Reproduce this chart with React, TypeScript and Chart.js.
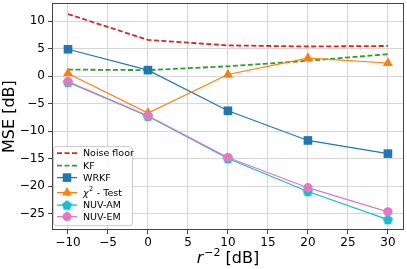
import React, { useEffect, useRef } from "react";
import { Chart, registerables } from "chart.js";

Chart.register(...registerables);

const xValues = [-10, 0, 10, 20, 30];
const noiseFloor = [11.3, 6.6, 5.6, 5.4, 5.5];
const kf = [1.2, 1.1, 1.8, 2.8, 4.0];
const wrkf = [4.9, 1.1, -6.3, -11.7, -14.1];
const chi2 = [0.5, -6.7, 0.3, 3.3, 2.4];
const nuvAm = [-1.1, -7.3, -15.0, -21.0, -26.1];
const nuvEm = [-1.0, -7.2, -14.8, -20.3, -24.7];

const seriesLabels = ["Noise floor", "KF", "WRKF", "χ2 - Test", "NUV-AM", "NUV-EM"];
const xTickValues = [-10, -5, 0, 5, 10, 15, 20, 25, 30];
const yTickValues = [-25, -20, -15, -10, -5, 0, 5, 10];

const FONT = "'DejaVu Sans', sans-serif";
const RED = "#d62728";
const GREEN = "#2ca02c";
const BLUE = "#1f77b4";
const ORANGE = "#ff7f0e";
const CYAN = "#17becf";
const PINK = "#e377c2";

const W = 407;
const H = 269;
const TARGET_RIGHT = 404;
const TARGET_TOP = 3;

function makePentagon(size: number, color: string): HTMLCanvasElement {
  const c = document.createElement("canvas");
  c.width = size;
  c.height = size;
  const ctx = c.getContext("2d")!;
  const r = size / 2;
  ctx.beginPath();
  for (let i = 0; i < 5; i++) {
    const a = -Math.PI / 2 + (i * 2 * Math.PI) / 5;
    const px = r + r * 0.98 * Math.cos(a);
    const py = r + 0.5 + r * 0.98 * Math.sin(a);
    if (i === 0) ctx.moveTo(px, py);
    else ctx.lineTo(px, py);
  }
  ctx.closePath();
  ctx.fillStyle = color;
  ctx.fill();
  return c;
}

const fmt = (v: number) => String(v).replace("-", "\u2212");

const zeroPad = (s: any) => {
  s.paddingTop = 0;
  s.paddingBottom = 0;
  s.paddingLeft = 0;
  s.paddingRight = 0;
};

export default function App() {
  const ref = useRef<HTMLCanvasElement | null>(null);
  const wrapRef = useRef<HTMLDivElement | null>(null);

  useEffect(() => {
    const canvas = ref.current;
    const wrap = wrapRef.current;
    if (!canvas || !wrap) return;
    const pentagon = makePentagon(11, CYAN);
    const pentagonLegend = makePentagon(11, CYAN);

    const pts = (ys: number[]) => xValues.map((x, i) => ({ x, y: ys[i] }));

    const legendItems = [
      { label: seriesLabels[0], color: RED, dash: [5, 2.5], lw: 1.8, marker: null as any },
      { label: seriesLabels[1], color: GREEN, dash: [5, 2.5], lw: 1.8, marker: null as any },
      { label: seriesLabels[2], color: BLUE, dash: [], lw: 1.3, marker: "rect" },
      { label: seriesLabels[3], color: ORANGE, dash: [], lw: 1.3, marker: "triangle" },
      { label: seriesLabels[4], color: CYAN, dash: [], lw: 1.3, marker: "pentagon" },
      { label: seriesLabels[5], color: PINK, dash: [], lw: 1.3, marker: "circle" },
    ];
    const rowY = [153, 165.5, 177.5, 192.5, 205, 216.5];

    const framePlugin = {
      id: "frameAndExtras",
      afterDraw(chart: any) {
        const ctx: CanvasRenderingContext2D = chart.ctx;
        const a = chart.chartArea;
        const oy = a.top - TARGET_TOP;
        ctx.save();
        ctx.strokeStyle = "#444";
        ctx.lineWidth = 1;
        ctx.strokeRect(Math.round(a.left) + 0.5, Math.round(a.top) + 0.5, Math.round(a.right - a.left) - 1, Math.round(a.bottom - a.top) - 1);

        const bx = 53.5, by = 146.5 + oy, bw = 79, bh = 79, rad = 2.5;
        ctx.beginPath();
        ctx.moveTo(bx + rad, by);
        ctx.lineTo(bx + bw - rad, by);
        ctx.quadraticCurveTo(bx + bw, by, bx + bw, by + rad);
        ctx.lineTo(bx + bw, by + bh - rad);
        ctx.quadraticCurveTo(bx + bw, by + bh, bx + bw - rad, by + bh);
        ctx.lineTo(bx + rad, by + bh);
        ctx.quadraticCurveTo(bx, by + bh, bx, by + bh - rad);
        ctx.lineTo(bx, by + rad);
        ctx.quadraticCurveTo(bx, by, bx + rad, by);
        ctx.closePath();
        ctx.fillStyle = "rgba(255,255,255,0.8)";
        ctx.fill();
        ctx.strokeStyle = "#cccccc";
        ctx.lineWidth = 1;
        ctx.stroke();

        legendItems.forEach((it, i) => {
          const y = rowY[i] + oy;
          ctx.save();
          ctx.strokeStyle = it.color;
          ctx.lineWidth = it.lw;
          ctx.setLineDash(it.dash);
          ctx.beginPath();
          ctx.moveTo(57, y);
          ctx.lineTo(77, y);
          ctx.stroke();
          ctx.restore();
          ctx.fillStyle = it.color;
          if (it.marker === "rect") {
            ctx.fillRect(67 - 4.3, y - 4.3, 8.6, 8.6);
          } else if (it.marker === "triangle") {
            const r = 5.6;
            ctx.beginPath();
            ctx.moveTo(67, y - r);
            ctx.lineTo(67 + r * 0.866, y + r * 0.5);
            ctx.lineTo(67 - r * 0.866, y + r * 0.5);
            ctx.closePath();
            ctx.fill();
          } else if (it.marker === "circle") {
            ctx.beginPath();
            ctx.arc(67, y, 4.5, 0, Math.PI * 2);
            ctx.fill();
          } else if (it.marker === "pentagon") {
            ctx.drawImage(pentagonLegend, 67 - 5.5, y - 5.5);
          }
          ctx.fillStyle = "#000";
          ctx.textBaseline = "middle";
          ctx.textAlign = "left";
          if (i === 3) {
            ctx.font = `italic 9.5px ${FONT}`;
            ctx.fillText("χ", 83, y + 1);
            const w1 = ctx.measureText("χ").width;
            ctx.font = `6.5px ${FONT}`;
            ctx.fillText("2", 83 + w1 + 0.5, y - 3);
            const w2 = ctx.measureText("2").width;
            ctx.font = `9.5px ${FONT}`;
            ctx.fillText(" - Test", 83 + w1 + w2 + 1, y + 1);
          } else {
            ctx.font = `9.5px ${FONT}`;
            ctx.fillText(it.label, 83, y + 0.5);
          }
        });

        // x axis title: r^{-2} [dB]
        const cx = (a.left + a.right) / 2;
        const baseY = a.bottom + 33;
        ctx.fillStyle = "#000";
        ctx.textBaseline = "alphabetic";
        ctx.textAlign = "left";
        ctx.font = `italic 16px ${FONT}`;
        const wr = ctx.measureText("r").width;
        ctx.font = `11px ${FONT}`;
        const ws = ctx.measureText("\u22122").width;
        ctx.font = `16px ${FONT}`;
        const wt = ctx.measureText(" [dB]").width;
        const total = wr + 1 + ws + wt;
        let x0 = cx - total / 2;
        ctx.font = `italic 16px ${FONT}`;
        ctx.fillText("r", x0, baseY);
        x0 += wr + 1;
        ctx.font = `11px ${FONT}`;
        ctx.fillText("\u22122", x0, baseY - 7);
        x0 += ws;
        ctx.font = `16px ${FONT}`;
        ctx.fillText(" [dB]", x0, baseY);
        ctx.restore();
      },
    };

    const mk = (i: number, data: number[], color: string, extra: any) => ({
      label: seriesLabels[i],
      data: pts(data),
      borderColor: color,
      backgroundColor: color,
      pointBackgroundColor: color,
      pointBorderColor: color,
      order: 10 - i,
      ...extra,
    });

    const build = () =>
      new Chart(canvas, {
        type: "line",
        data: {
          datasets: [
            mk(0, noiseFloor, RED, { borderWidth: 1.8, borderDash: [5, 2.5], pointRadius: 0 }),
            mk(1, kf, GREEN, { borderWidth: 1.8, borderDash: [5, 2.5], pointRadius: 0 }),
            mk(2, wrkf, BLUE, { borderWidth: 1.2, pointStyle: "rect", pointRadius: 6.1, pointBorderWidth: 0 }),
            mk(3, chi2, ORANGE, { borderWidth: 1.2, pointStyle: "triangle", pointRadius: 5.8, pointBorderWidth: 0 }),
            mk(4, nuvAm, CYAN, { borderWidth: 1.2, pointStyle: pentagon, pointRadius: 5.5, pointBorderWidth: 0 }),
            mk(5, nuvEm, PINK, { borderWidth: 1.2, pointStyle: "circle", pointRadius: 4.6, pointBorderWidth: 0 }),
          ],
        },
        options: {
          responsive: false,
          maintainAspectRatio: false,
          animation: false,
          devicePixelRatio: 1,
          layout: { padding: { top: 3, right: 3, left: 0, bottom: 0 } },
          plugins: { legend: { display: false }, tooltip: { enabled: false } },
          elements: { line: { tension: 0 } },
          scales: {
            x: {
              type: "linear",
              position: "bottom",
              min: -12,
              max: 32,
              afterFit: (s: any) => { s.height = 39; zeroPad(s); },
              afterBuildTicks: (s: any) => { s.ticks = xTickValues.map((v) => ({ value: v })); },
              ticks: {
                includeBounds: false,
                stepSize: 5,
                color: "#000",
                font: { family: FONT, size: 12 },
                padding: 2,
                maxRotation: 0,
                callback: (v: any) => fmt(v),
              },
              grid: { color: "#d6d6d6", lineWidth: 1, tickLength: 4, tickColor: "#444" },
              border: { display: false },
            },
            y: {
              type: "linear",
              position: "left",
              min: -28,
              max: 13.3,
              afterFit: (s: any) => { s.width = 52; zeroPad(s); },
              afterBuildTicks: (s: any) => { s.ticks = yTickValues.map((v) => ({ value: v })); },
              ticks: {
                includeBounds: false,
                stepSize: 5,
                color: "#000",
                font: { family: FONT, size: 12 },
                padding: 3,
                callback: (v: any) => fmt(v),
              },
              grid: { color: "#d6d6d6", lineWidth: 1, tickLength: 4, tickColor: "#444" },
              border: { display: false },
              title: {
                display: true,
                text: "MSE [dB]",
                color: "#000",
                font: { family: FONT, size: 16 },
                padding: { top: 0, bottom: 0 },
              },
            },
          },
        },
        plugins: [framePlugin],
      } as any);

    let chart = build();
    const a = chart.chartArea;
    const dx = Math.round(TARGET_RIGHT - a.right);
    const dy = Math.round(a.top - TARGET_TOP);
    if ((dx !== 0 || dy !== 0) && Math.abs(dx) < 20 && Math.abs(dy) < 20) {
      chart.destroy();
      const nw = W + dx;
      const nh = H + dy;
      canvas.width = nw;
      canvas.height = nh;
      canvas.style.width = `${nw}px`;
      canvas.style.height = `${nh}px`;
      wrap.style.top = `${-dy}px`;
      wrap.style.width = `${nw}px`;
      wrap.style.height = `${nh}px`;
      chart = build();
    }

    return () => chart.destroy();
  }, []);

  return (
    <div ref={wrapRef} style={{ position: "fixed", left: 0, top: 0, width: W, height: H }}>
      <canvas ref={ref} width={W} height={H} style={{ display: "block", width: W, height: H }} />
    </div>
  );
}
